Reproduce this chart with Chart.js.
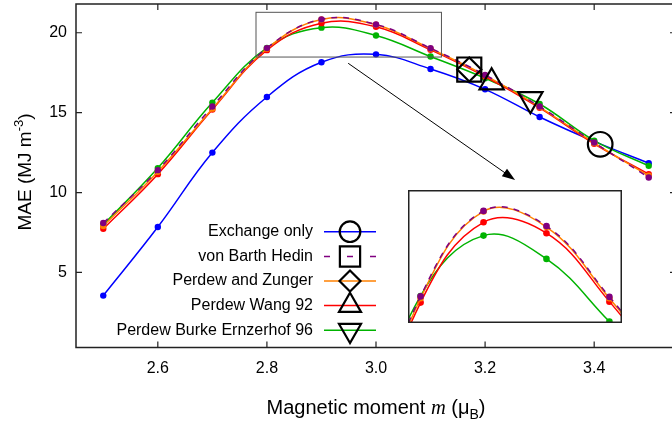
<!DOCTYPE html>
<html><head><meta charset="utf-8">
<script src="https://cdn.jsdelivr.net/npm/chart.js@4/dist/chart.umd.min.js"></script>
<style>
html,body{margin:0;padding:0;background:#fff;overflow:hidden;width:672px;height:421px;}
#wrap{position:relative;width:680px;height:421px;}
#main{position:absolute;left:0;top:0;}
#inset{position:absolute;left:408px;top:190px;}
</style></head><body>
<div id="wrap">
<canvas id="main" width="680" height="421"></canvas>
<canvas id="inset" width="214" height="133"></canvas>
</div>
<script>
// ---------- data ----------
const moments        = [2.5, 2.6, 2.7, 2.8, 2.9, 3.0, 3.1, 3.2, 3.3, 3.4, 3.5];
const exchangeOnly   = [3.55, 7.84, 12.5, 15.98, 18.15, 18.65, 17.73, 16.46, 14.73, 13.2, 11.84];
const vonBarthHedin  = [8.09, 11.4, 15.38, 19.04, 20.84, 20.52, 19.03, 17.36, 15.38, 13.13, 10.94];
const perdewZunger   = [7.9, 11.3, 15.25, 19.0, 20.83, 20.5, 19.0, 17.33, 15.35, 13.1, 11.05];
const perdewWang92   = [7.73, 11.15, 15.2, 18.91, 20.6, 20.37, 18.93, 17.26, 15.3, 13.05, 11.15];
const pbe96          = [7.98, 11.53, 15.63, 19.05, 20.32, 19.83, 18.51, 17.15, 15.54, 13.25, 11.67];
const seriesNames    = ["Exchange only", "von Barth Hedin", "Perdew and Zunger", "Perdew Wang 92", "Perdew Burke Ernzerhof 96"];
const markerMoments  = [3.411, 3.171, 3.171, 3.212, 3.283];
const markerValues   = [13.02, 17.7, 17.7, 16.9, 15.84];
const xTickValues    = [2.6, 2.8, 3.0, 3.2, 3.4];
const yTickValues    = [5, 10, 15, 20];
const xRange         = [2.45, 3.55];
const yRange         = [0.3, 21.8];
const insetRangeX    = [2.78, 3.12];
const insetRangeY    = [18.48, 21.28];
const arrowFrom      = [2.949, 18.09];
const arrowTo        = [3.255, 10.79];

// ---------- styles ----------
const colors = ['#0000ff', '#800080', '#ff8000', '#ff0000', '#00b300'];
const dashes = [[], [6, 6], [], [], []];
const markerStyles = [
  {pointStyle: 'circle', radius: 12.3, rotation: 0},
  {pointStyle: 'rect', radius: 17, rotation: 0},
  {pointStyle: 'rectRot', radius: 12, rotation: 0},
  {pointStyle: 'triangle', radius: 14, rotation: 0},
  {pointStyle: 'triangle', radius: 14, rotation: 180}
];
const seriesValues = [exchangeOnly, vonBarthHedin, perdewZunger, perdewWang92, pbe96];
const SANS = '"Liberation Sans", Arial, Helvetica, sans-serif';
const SERIF = '"Liberation Serif", "Times New Roman", serif';

function pts(ys) { return moments.map((x, i) => ({x: x, y: ys[i]})); }

function lineDataset(i, radius) {
  return {
    type: 'line',
    label: seriesNames[i],
    data: pts(seriesValues[i]),
    borderColor: colors[i],
    backgroundColor: colors[i],
    borderWidth: 1.5,
    borderDash: dashes[i],
    pointRadius: radius,
    pointBorderWidth: 0,
    pointBackgroundColor: colors[i],
    tension: 0.4,
    fill: false
  };
}
function markerDataset(i) {
  const m = markerStyles[i];
  return {
    type: 'scatter',
    label: seriesNames[i] + ' marker',
    data: [{x: markerMoments[i], y: markerValues[i]}],
    showLine: false,
    pointStyle: m.pointStyle,
    pointRadius: m.radius,
    pointRotation: m.rotation,
    pointBorderColor: '#000',
    pointBackgroundColor: 'rgba(0,0,0,0)',
    pointBorderWidth: 2.2
  };
}

// draw order: index 0 on top
const drawOrder = [1, 2, 3, 4, 0];
const mainDatasets = [];
[0,1,2,3,4].forEach(i => mainDatasets.push(markerDataset(i)));
drawOrder.forEach(i => mainDatasets.push(lineDataset(i, 3.2)));

function legendMarker(ctx, style, x, y, r, rot) {
  ctx.beginPath();
  if (style === 'circle') ctx.arc(x, y, r, 0, Math.PI * 2);
  else if (style === 'rect') { const s = r * Math.SQRT1_2; ctx.rect(x - s, y - s, 2 * s, 2 * s); }
  else if (style === 'rectRot') { ctx.moveTo(x - r, y); ctx.lineTo(x, y - r); ctx.lineTo(x + r, y); ctx.lineTo(x, y + r); ctx.closePath(); }
  else if (style === 'triangle') {
    let a = rot * Math.PI / 180;
    ctx.moveTo(x + Math.sin(a) * r, y - Math.cos(a) * r);
    a += 2 * Math.PI / 3; ctx.lineTo(x + Math.sin(a) * r, y - Math.cos(a) * r);
    a += 2 * Math.PI / 3; ctx.lineTo(x + Math.sin(a) * r, y - Math.cos(a) * r);
    ctx.closePath();
  }
  ctx.stroke();
}

const decorPlugin = {
  id: 'decor',
  afterDraw(chart) {
    const ctx = chart.ctx, a = chart.chartArea;
    const xs = chart.scales.x, ys = chart.scales.y;
    ctx.save();
    // frame
    ctx.strokeStyle = '#222'; ctx.lineWidth = 1.5; ctx.setLineDash([]);
    ctx.strokeRect(a.left, a.top, a.right - a.left, a.bottom - a.top);
    // inward ticks
    ctx.lineWidth = 1.2;
    ctx.beginPath();
    xTickValues.forEach(v => {
      const px = xs.getPixelForValue(v);
      ctx.moveTo(px, a.bottom); ctx.lineTo(px, a.bottom - 6);
      ctx.moveTo(px, a.top); ctx.lineTo(px, a.top + 6);
    });
    yTickValues.forEach(v => {
      const py = ys.getPixelForValue(v);
      ctx.moveTo(a.left, py); ctx.lineTo(a.left + 6, py);
      ctx.moveTo(a.right, py); ctx.lineTo(a.right - 6, py);
    });
    ctx.stroke();
    // zoom rectangle
    const rx0 = xs.getPixelForValue(insetRangeX[0]), rx1 = xs.getPixelForValue(insetRangeX[1]);
    const ry0 = ys.getPixelForValue(insetRangeY[1]), ry1 = ys.getPixelForValue(insetRangeY[0]);
    ctx.strokeStyle = '#555'; ctx.lineWidth = 1;
    ctx.strokeRect(rx0, ry0, rx1 - rx0, ry1 - ry0);
    // arrow
    const ax0 = xs.getPixelForValue(arrowFrom[0]), ay0 = ys.getPixelForValue(arrowFrom[1]);
    const ax1 = xs.getPixelForValue(arrowTo[0]), ay1 = ys.getPixelForValue(arrowTo[1]);
    const ang = Math.atan2(ay1 - ay0, ax1 - ax0);
    ctx.strokeStyle = '#000'; ctx.lineWidth = 1;
    ctx.beginPath(); ctx.moveTo(ax0, ay0);
    ctx.lineTo(ax1 - 10 * Math.cos(ang), ay1 - 10 * Math.sin(ang)); ctx.stroke();
    ctx.fillStyle = '#000';
    ctx.beginPath();
    ctx.moveTo(ax1, ay1);
    ctx.lineTo(ax1 - 13 * Math.cos(ang) + 4.5 * Math.sin(ang), ay1 - 13 * Math.sin(ang) - 4.5 * Math.cos(ang));
    ctx.lineTo(ax1 - 13 * Math.cos(ang) - 4.5 * Math.sin(ang), ay1 - 13 * Math.sin(ang) + 4.5 * Math.cos(ang));
    ctx.closePath(); ctx.fill();
    // legend
    const rowsY = [231.7, 256.5, 281, 305.5, 330.3];
    const legR = [{r: 10.3}, {r: 14.3}, {r: 10.5}, {r: 12.7}, {r: 12.7}];
    rowsY.forEach((y, i) => {
      ctx.font = '16px ' + SANS;
      ctx.fillStyle = '#000'; ctx.textAlign = 'right'; ctx.textBaseline = 'middle';
      ctx.fillText(seriesNames[i], 313, y);
      ctx.strokeStyle = colors[i]; ctx.lineWidth = 1.5;
      ctx.setLineDash(i === 1 ? [6, 17] : []);
      ctx.beginPath(); ctx.moveTo(324, y); ctx.lineTo(376, y); ctx.stroke();
      ctx.setLineDash([]);
      ctx.strokeStyle = '#000'; ctx.lineWidth = 2.2;
      legendMarker(ctx, markerStyles[i].pointStyle, 350, y, legR[i].r, markerStyles[i].rotation);
    });
    // x title
    ctx.fillStyle = '#000'; ctx.textAlign = 'left'; ctx.textBaseline = 'alphabetic';
    const xParts = [
      {t: 'Magnetic moment ', f: '20px ' + SANS, dy: 0},
      {t: 'm', f: 'italic 20.5px ' + SERIF, dy: 0},
      {t: ' (\u03bc', f: '20px ' + SANS, dy: 0},
      {t: 'B', f: '14px ' + SANS, dy: 5},
      {t: ')', f: '20px ' + SANS, dy: 0}
    ];
    let w = 0;
    xParts.forEach(p => { ctx.font = p.f; p.w = ctx.measureText(p.t).width; w += p.w; });
    let cx = (a.left + a.right) / 2 - w / 2;
    const baseX = 414;
    xParts.forEach(p => { ctx.font = p.f; ctx.fillText(p.t, cx, baseX + p.dy); cx += p.w; });
    // y title
    const yParts = [
      {t: 'MAE (MJ m', f: '19px ' + SANS, dy: 0},
      {t: '-3', f: '13px ' + SANS, dy: -8},
      {t: ')', f: '19px ' + SANS, dy: 0}
    ];
    w = 0;
    yParts.forEach(p => { ctx.font = p.f; p.w = ctx.measureText(p.t).width; w += p.w; });
    ctx.translate(31, 172); ctx.rotate(-Math.PI / 2);
    cx = -w / 2;
    yParts.forEach(p => { ctx.font = p.f; ctx.fillText(p.t, cx, p.dy); cx += p.w; });
    ctx.restore();
  }
};

function zeroPad(s) { s.paddingLeft = 0; s.paddingRight = 0; s.paddingTop = 0; s.paddingBottom = 0; }

new Chart(document.getElementById('main'), {
  data: {datasets: mainDatasets},
  options: {
    responsive: false, animation: false, events: [],
    layout: {autoPadding: false, padding: {left: 0, right: 4, top: 4, bottom: 0}},
    plugins: {legend: {display: false}, tooltip: {enabled: false}},
    scales: {
      x: {
        type: 'linear', min: xRange[0], max: xRange[1],
        grid: {display: false}, border: {display: false},
        afterBuildTicks: s => { s.ticks = xTickValues.map(v => ({value: v})); },
        afterFit: s => { s.height = 73.5; zeroPad(s); },
        ticks: {font: {family: SANS, size: 16}, color: '#000', padding: 3, maxRotation: 0, autoSkip: false,
                callback: v => Number(v).toFixed(1)}
      },
      y: {
        type: 'linear', min: yRange[0], max: yRange[1],
        grid: {display: false}, border: {display: false},
        afterBuildTicks: s => { s.ticks = yTickValues.map(v => ({value: v})); },
        afterFit: s => { s.width = 76; zeroPad(s); },
        ticks: {font: {family: SANS, size: 16}, color: '#000', padding: 1, autoSkip: false,
                callback: v => String(v)}
      }
    }
  },
  plugins: [decorPlugin]
});

// ---------- inset ----------
const insetFrame = {
  id: 'insetFrame',
  beforeDraw(chart) {
    const ctx = chart.ctx;
    ctx.save(); ctx.fillStyle = '#fff'; ctx.fillRect(0, 0, chart.width, chart.height); ctx.restore();
  },
  afterDraw(chart) {
    const ctx = chart.ctx, a = chart.chartArea;
    ctx.save(); ctx.strokeStyle = '#222'; ctx.lineWidth = 1.5;
    ctx.strokeRect(a.left + 0.75, a.top + 0.75, a.right - a.left - 1.5, a.bottom - a.top - 1.5);
    ctx.restore();
  }
};
const insetDatasets = [1, 2, 3, 4].map(i => Object.assign(lineDataset(i, 3.3), {clip: 1}));
new Chart(document.getElementById('inset'), {
  data: {datasets: insetDatasets},
  options: {
    responsive: false, animation: false, events: [],
    layout: {autoPadding: false, padding: 0},
    plugins: {legend: {display: false}, tooltip: {enabled: false}},
    scales: {
      x: {type: 'linear', min: insetRangeX[0], max: insetRangeX[1], display: false},
      y: {type: 'linear', min: insetRangeY[0], max: insetRangeY[1], display: false}
    }
  },
  plugins: [insetFrame]
});
</script>
</body></html>
